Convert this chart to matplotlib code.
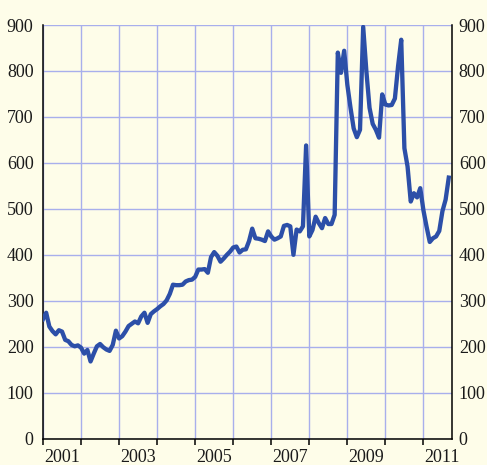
import numpy as np
import matplotlib.pyplot as plt

# Mesyachnye znacheniya, yanvar 2001 - sentyabr 2011
vals_2001 = [260, 274, 244, 234, 227, 236, 233, 215, 212, 204, 201, 203]
vals_2002 = [198, 185, 193, 168, 185, 201, 206, 199, 194, 191, 204, 235]
vals_2003 = [218, 223, 233, 245, 250, 255, 251, 266, 274, 252, 271, 277]
vals_2004 = [282, 288, 293, 301, 315, 335, 334, 334, 335, 342, 345, 346]
vals_2005 = [352, 368, 368, 369, 361, 395, 406, 398, 385, 392, 400, 407]
vals_2006 = [416, 418, 405, 411, 412, 430, 457, 436, 435, 433, 430, 451]
vals_2007 = [440, 433, 436, 440, 463, 465, 462, 400, 455, 451, 462, 638]
vals_2008 = [440, 454, 483, 469, 458, 480, 467, 467, 487, 840, 796, 844]
vals_2009 = [770, 720, 675, 656, 672, 896, 800, 720, 685, 672, 655, 749]
vals_2010 = [727, 725, 726, 740, 810, 868, 632, 592, 516, 534, 525, 545]
vals_2011 = [497, 461, 428, 436, 440, 452, 495, 520, 568]

values = (vals_2001 + vals_2002 + vals_2003 + vals_2004 + vals_2005 + vals_2006
          + vals_2007 + vals_2008 + vals_2009 + vals_2010 + vals_2011)
start_year = 2001
dates = start_year + np.arange(len(values)) / 12.0

label_years = [2001, 2003, 2005, 2007, 2009, 2011]
y_ticks = list(range(0, 1000, 100))

bg = '#fefde9'
grid_col = '#a8afec'
line_col = '#2c4fa8'
txt_col = '#1a1a1a'

plt.rcParams['font.family'] = ['Liberation Serif', 'DejaVu Serif']
plt.rcParams['font.size'] = 13

fig = plt.figure(figsize=(4.87, 4.65), dpi=100, facecolor=bg)
ax = fig.add_axes([0.0883, 0.0566, 0.8405, 0.8896])
ax.set_facecolor(bg)

ax.plot(dates, values, color=line_col, lw=3.1, solid_joinstyle='round', zorder=3)

ax.set_xlim(2001, 2011.76)
ax.set_ylim(0, 900)

# Setka
ax.set_yticks(y_ticks)
ax.set_xticks(np.arange(2001, 2012))
ax.set_xticklabels([])
ax.grid(True, color=grid_col, lw=1.0, zorder=0)

# Podpisi let poseredine goda
ax.set_xticks([y + 0.5 for y in label_years], minor=True)
ax.set_xticklabels([str(y) for y in label_years], minor=True, color=txt_col)
ax.tick_params(axis='x', which='minor', length=0, pad=7.5)
ax.tick_params(axis='x', which='major', direction='out', length=4, width=1.1, color='k')

ax.tick_params(axis='y', which='major', length=0, labelcolor=txt_col,
               left=True, right=True, labelleft=True, labelright=True)
for t in ax.yaxis.get_major_ticks():
    t.label1.set_x(-0.023)
    t.label2.set_x(1.016)
ax.tick_params(axis='y', pad=0)

for side in ['left', 'right', 'bottom']:
    ax.spines[side].set_color('k')
    ax.spines[side].set_linewidth(1.1)
ax.spines['top'].set_visible(False)

fig.savefig('out.png', dpi=100, facecolor=bg)
